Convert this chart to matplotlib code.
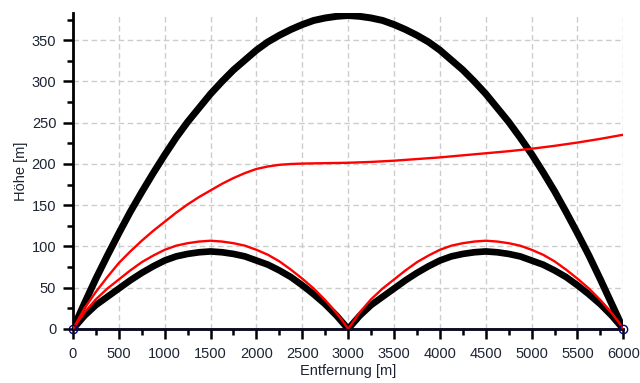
import numpy as np
import matplotlib.pyplot as plt
from matplotlib.ticker import MultipleLocator

# Entfernung [m] / Höhe [m]
x_steil = [0, 125, 250, 375, 500, 625, 750, 875, 1000, 1125, 1250, 1375, 1500,
           1625, 1750, 1875, 2000, 2125, 2250, 2375, 2500, 2625, 2750, 2875, 3000,
           3125, 3250, 3375, 3500, 3625, 3750, 3875, 4000, 4125, 4250, 4375, 4500,
           4625, 4750, 4875, 5000, 5125, 5250, 5375, 5500, 5625, 5750, 5875, 6000]
h_steil = [0, 31, 61, 89, 116, 142, 166, 189, 211, 232, 251, 268, 285,
           300, 314, 326, 338, 348, 356, 363, 369, 374, 377, 379, 380,
           379, 377, 374, 369, 363, 356, 348, 338, 326, 314, 300, 285,
           268, 251, 232, 212, 190, 167, 142, 116, 89, 60, 30, 0]

x_flach = [0, 62.5, 125, 250, 375, 500, 625, 750, 875, 1000, 1125, 1250, 1375, 1500,
           1625, 1750, 1875, 2000, 2125, 2250, 2375, 2500, 2625, 2750, 2875, 2937.5, 3000,
           3062.5, 3125, 3250, 3375, 3500, 3625, 3750, 3875, 4000, 4125, 4250, 4375, 4500,
           4625, 4750, 4875, 5000, 5125, 5250, 5375, 5500, 5625, 5750, 5875, 5937.5, 6000]
h_flach = [0, 8, 16, 29, 39, 49, 59, 68, 76, 83, 88, 91, 93, 94,
           93, 91, 88, 83, 78, 71, 63, 53, 42, 30, 16, 8, 0,
           8, 16, 29, 39, 49, 59, 68, 76, 83, 88, 91, 93, 94,
           93, 91, 88, 83, 78, 71, 63, 53, 42, 30, 16, 8, 0]

x_rot_flach = x_flach
h_rot_flach = [0, 10, 20, 36, 49, 60, 71, 81, 89, 96, 101, 104, 106, 107,
               106, 104, 101, 96, 90, 82, 72, 61, 49, 35, 19, 10, 0,
               10, 20, 36, 49, 60, 71, 81, 89, 96, 101, 104, 106, 107,
               106, 104, 101, 96, 90, 82, 72, 61, 49, 35, 19, 10, 0]

x_rot = [0, 125, 250, 375, 500, 625, 750, 875, 1000, 1125, 1250, 1375, 1500,
         1625, 1750, 1875, 2000, 2125, 2250, 2375, 2500, 2750, 3000,
         3250, 3500, 3750, 4000, 4250, 4500, 4750, 5000, 5250, 5500, 5750, 6000]
h_rot = [0, 25, 45, 63, 80, 94, 107, 119, 130, 141, 151, 160, 168,
         176, 183, 189, 194, 197, 199, 200, 200.5, 201, 201.5,
         202.5, 204, 206, 208, 210.5, 213, 215.5, 218.5, 222, 226, 230.5, 235.5]

x_boden = [0, 6000]
h_boden = [0, 0]

plt.rcParams['font.family'] = ['Liberation Sans', 'DejaVu Sans']

fig = plt.figure(figsize=(6.4, 3.83), dpi=100)
ax = fig.add_axes([0.114, 0.141, 0.860, 0.825])

ax.plot(x_steil, h_steil, color='black', lw=5, solid_capstyle='butt', zorder=3)
ax.plot(x_flach, h_flach, color='black', lw=4.8, solid_capstyle='butt', zorder=3)
ax.plot(x_rot_flach, h_rot_flach, color='red', lw=1.7, zorder=4)
ax.plot(x_rot, h_rot, color='red', lw=1.7, zorder=4)
ax.plot(x_boden, h_boden, color='#000080', lw=1, zorder=5, clip_on=False)
ax.plot(x_boden, h_boden, 'o', mfc='none', mec='#000080', ms=6, mew=1, zorder=6, clip_on=False)

ax.set_xlim(0, 6000)
ax.set_ylim(0, 383)
ax.xaxis.set_major_locator(MultipleLocator(500))
ax.xaxis.set_minor_locator(MultipleLocator(250))
ax.yaxis.set_major_locator(MultipleLocator(50))
ax.yaxis.set_minor_locator(MultipleLocator(25))

ax.spines['top'].set_visible(False)
ax.spines['right'].set_visible(False)
ax.spines['left'].set_linewidth(2)
ax.spines['bottom'].set_linewidth(2)
ax.tick_params(which='major', length=7, width=1.8, labelsize=10.5, colors='black')
ax.tick_params(which='minor', length=4.5, width=1.8)
ax.tick_params(axis='y', pad=5)
ax.tick_params(axis='x', pad=6)
ax.tick_params(labelcolor='#1c2433')

ax.grid(True, which='major', color='#cccccc', linestyle=(0, (4, 2.5)), lw=1)
ax.set_axisbelow(True)

ax.set_xlabel('Entfernung [m]', fontsize=10.5, labelpad=2, color='#1c2433')
ax.set_ylabel('Höhe [m]', fontsize=10.5, labelpad=3, color='#1c2433')

fig.savefig('out.png', dpi=100)
